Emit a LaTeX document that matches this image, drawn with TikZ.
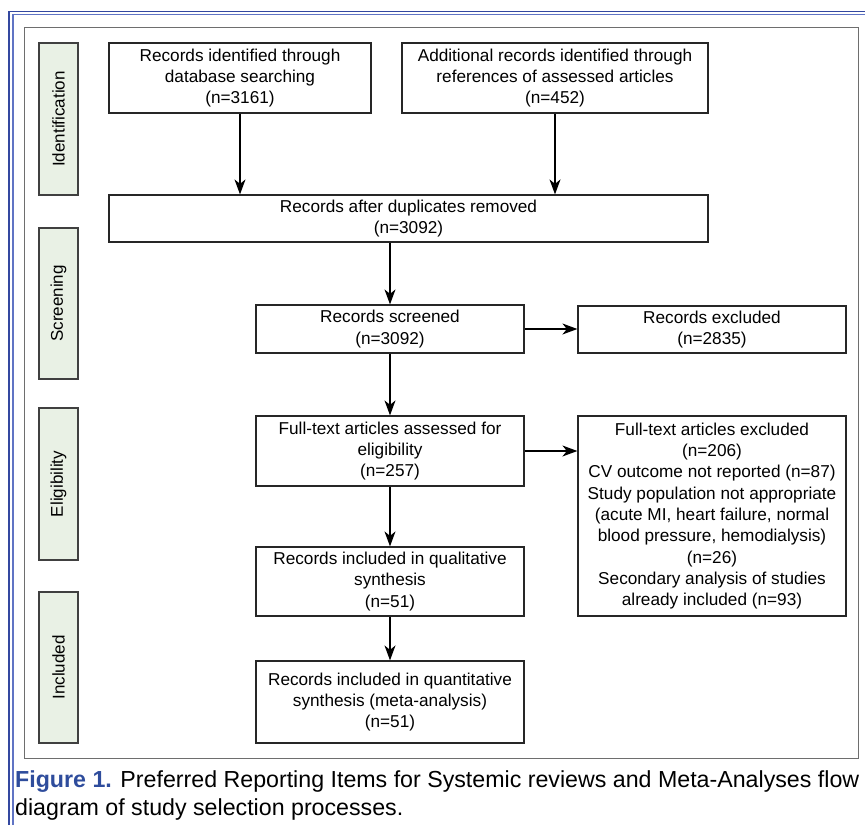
\documentclass[tikz,border=0pt]{standalone}
\usepackage{fontspec}
\setmainfont{Liberation Sans}
\usepackage{xcolor}
\usepackage{tikz}
\usetikzlibrary{arrows.meta,positioning}
\definecolor{framegray}{RGB}{110,110,110}
\definecolor{phasegreen}{RGB}{233,241,229}
\definecolor{capblue}{RGB}{46,76,156}
\definecolor{edgeblue}{RGB}{52,72,160}
\definecolor{edgeblue2}{RGB}{96,116,196}
\tikzset{
  fbox/.style={rectangle, draw=black!85, line width=1.2pt, align=center, inner sep=0pt, font=\fontsize{17.2}{21.3}\selectfont},
  phase/.style={rectangle, draw=black!75, line width=1.2pt, fill=phasegreen, minimum height=39pt, rotate=90, inner sep=0pt, font=\fontsize{17}{21}\selectfont},
  captext/.style={anchor=base west, inner sep=0pt, font=\fontsize{23.2}{28}\selectfont},
  farrow/.style={-{Stealth[length=15pt,width=11pt,inset=4.5pt]}, line width=1.3pt}
}

\begin{document}
\begin{tikzpicture}[x=1pt, y=-1pt]
\useasboundingbox (0,0) rectangle (865,825);
% page edge and frame
\draw[edgeblue, line width=1.6pt] (9,825) -- (9,11.5) -- (865,11.5);
\draw[edgeblue2, line width=1.4pt] (13,825) -- (13,14.5) -- (865,14.5);
\draw[framegray, line width=1pt] (24,27) rectangle (858,758);
% phases
\node[phase, minimum width=152pt] (ident) at (58.5,119) {Identification};
\node[phase, minimum width=151pt] (screen) at (58.5,303.5) {Screening};
\node[phase, minimum width=152pt] (elig) at (58.5,484) {Eligibility};
\node[phase, minimum width=151pt] (incl) at (58.5,667.5) {Included};
% flow boxes
\node[fbox, minimum width=262pt, minimum height=70pt] (dbsearch) at (240,78) {Records identified through\\database searching\\(n=3161)};
\node[fbox, minimum width=306pt, minimum height=70pt] (refs) at (555,78) {Additional records identified through\\references of assessed articles\\(n=452)};
\node[fbox, minimum width=599pt, minimum height=47pt] (dedup) at (408.5,218.5) {Records after duplicates removed\\(n=3092)};
\node[fbox, minimum width=268pt, minimum height=48pt] (screened) at (390,329) {Records screened\\(n=3092)};
\node[fbox, minimum width=268pt, minimum height=47pt] (excl) at (712,329.5) {Records excluded\\(n=2835)};
\node[fbox, minimum width=268pt, minimum height=70pt] (full) at (390,451) {Full-text articles assessed for\\eligibility\\(n=257)};
\node[fbox, minimum width=268pt, minimum height=200pt] (fexcl) at (712,516) {Full-text articles excluded\\(n=206)\\CV outcome not reported (n=87)\\Study population not appropriate\\(acute MI, heart failure, normal\\blood pressure, hemodialysis)\\(n=26)\\Secondary analysis of studies\\already included (n=93)};
\node[fbox, minimum width=268pt, minimum height=69pt] (qual) at (390,581.5) {Records included in qualitative\\synthesis\\(n=51)};
\node[fbox, minimum width=268pt, minimum height=82pt] (quant) at (390,702) {Records included in quantitative\\synthesis (meta-analysis)\\(n=51)};
% arrows
\draw[farrow] (dbsearch.south) -- (dbsearch.south |- dedup.north);
\draw[farrow] (refs.south) -- (refs.south |- dedup.north);
\draw[farrow] (dedup.south -| screened.north) -- (screened.north);
\draw[farrow] (screened.east) -- (screened.east -| excl.west);
\draw[farrow] (screened) -- (full);
\draw[farrow] (full.east) -- (full.east -| fexcl.west);
\draw[farrow] (full) -- (qual);
\draw[farrow] (qual) -- (quant);
% caption
\node[captext] (caption1) at (15,787) {\textcolor{capblue}{\textbf{Figure 1.}} Preferred Reporting Items for Systemic reviews and Meta-Analyses flow};
\node[captext] (caption2) at (15,815) {diagram of study selection processes.};
\end{tikzpicture}
\end{document}
